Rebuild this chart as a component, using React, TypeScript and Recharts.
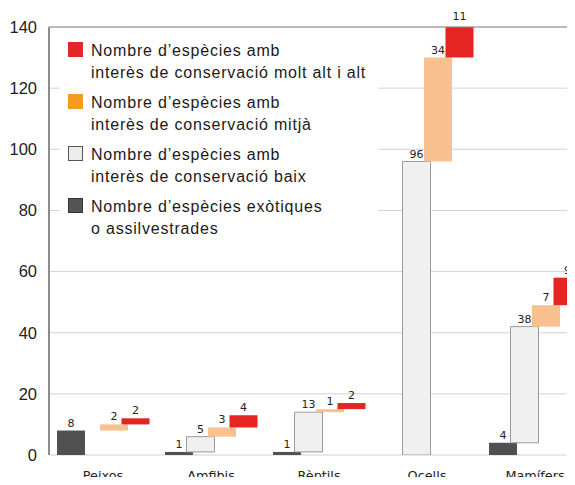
import React from 'react';
import { BarChart, Bar, XAxis, YAxis, CartesianGrid, Legend, LabelList, ReferenceLine } from 'recharts';

const categories = ['Peixos', 'Amfibis', 'Rèptils', 'Ocells', 'Mamífers'];
const exotiques = [8, 1, 1, 0, 4];
const interesBaix = [0, 5, 13, 96, 38];
const interesMitja = [2, 3, 1, 34, 7];
const interesAlt = [2, 4, 2, 11, 9];
const yTicks = [0, 20, 40, 60, 80, 100, 120, 140];

const legendItems = [
  { lines: ['Nombre d’espècies amb', 'interès de conservació molt alt i alt'], fill: '#e3262a', border: '#e3262a' },
  { lines: ['Nombre d’espècies amb', 'interès de conservació mitjà'], fill: '#f39c1f', border: '#f39c1f' },
  { lines: ['Nombre d’espècies amb', 'interès de conservació baix'], fill: '#ececec', border: '#555' },
  { lines: ['Nombre d’espècies exòtiques', 'o assilvestrades'], fill: '#555', border: '#333' },
];

// waterfall: each group starts where the previous one ends
const data = categories.map((name, i) => {
  const a = exotiques[i];
  const b = a + interesBaix[i];
  const c = b + interesMitja[i];
  const d = c + interesAlt[i];
  return {
    name,
    exotiques: [0, a],
    baix: [a, b],
    mitja: [b, c],
    alt: [c, d],
    nExotiques: exotiques[i],
    nBaix: interesBaix[i],
    nMitja: interesMitja[i],
    nAlt: interesAlt[i],
  };
});

const valueLabel = (props: any) => {
  const { x, y, width, value } = props;
  if (!value) return null;
  return (
    <text x={x + width / 2} y={y - 4} textAnchor="middle" fontSize={11} fontFamily="DejaVu Sans" fill="#222">
      {value}
    </text>
  );
};

const renderLegend = () => (
  <div
    style={{
      background: '#fff',
      padding: '11px 0 12px 8px',
      fontFamily: '"Liberation Sans", Arial, sans-serif',
      fontSize: 16,
      letterSpacing: 0.8,
      color: '#1a1a1a',
    }}
  >
    {legendItems.map((item, i) => (
      <div key={i} style={{ display: 'flex', alignItems: 'flex-start', marginBottom: i < legendItems.length - 1 ? 8 : 0 }}>
        <span
          style={{
            width: 15,
            height: 15,
            background: item.fill,
            border: `1px solid ${item.border}`,
            boxSizing: 'border-box',
            marginTop: 2,
            marginRight: 8,
            flexShrink: 0,
          }}
        />
        <div style={{ lineHeight: '22px', whiteSpace: 'nowrap' }}>
          {item.lines[0]}
          <br />
          {item.lines[1]}
        </div>
      </div>
    ))}
  </div>
);

export default function App() {
  return (
    <div style={{ position: 'relative', width: 575, height: 485, overflow: 'hidden', margin: -8, background: '#fff' }}>
      <BarChart
        width={589}
        height={500}
        data={data}
        margin={{ top: 27, right: 0, left: 0, bottom: 0 }}
        barCategoryGap={8}
        barGap={-6.5}
      >
        <CartesianGrid vertical={false} stroke="#d2d2d2" />
        <XAxis
          dataKey="name"
          axisLine={false}
          tickLine={false}
          tickSize={0}
          tickMargin={16}
          height={45}
          interval={0}
          tick={{ fontSize: 12.8, fontFamily: 'DejaVu Sans', fill: '#222' }}
        />
        <YAxis
          domain={[0, 140]}
          ticks={yTicks}
          allowDataOverflow
          width={49}
          axisLine={{ stroke: '#8c8c8c', strokeWidth: 2 }}
          tickLine={false}
          tickSize={0}
          tickMargin={12}
          tick={{ fontSize: 16.5, fontFamily: '"Liberation Sans", Arial', fill: '#222' }}
        />
        <ReferenceLine y={140} stroke="#8a8a8a" />
        <Legend
          layout="vertical"
          align="center"
          verticalAlign="middle"
          content={renderLegend}
          wrapperStyle={{ top: 29, left: 60, width: 318 }}
        />
        <Bar dataKey="exotiques" fill="#505050" isAnimationActive={false}>
          <LabelList dataKey="nExotiques" content={valueLabel} />
        </Bar>
        <Bar dataKey="baix" fill="#f0f0f0" stroke="#9a9a9a" strokeWidth={1} isAnimationActive={false}>
          <LabelList dataKey="nBaix" content={valueLabel} />
        </Bar>
        <Bar dataKey="mitja" fill="#f8c18f" isAnimationActive={false}>
          <LabelList dataKey="nMitja" content={valueLabel} />
        </Bar>
        <Bar dataKey="alt" fill="#e52521" isAnimationActive={false}>
          <LabelList dataKey="nAlt" content={valueLabel} />
        </Bar>
      </BarChart>
    </div>
  );
}
